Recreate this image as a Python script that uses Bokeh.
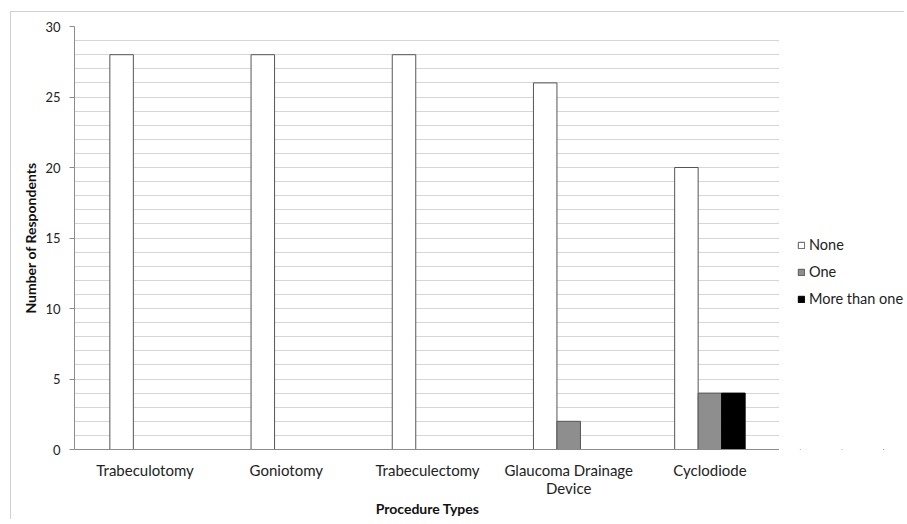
from bokeh.plotting import figure
from bokeh.layouts import row
from bokeh.models import (FactorRange, Range1d, FixedTicker, ColumnDataSource, Legend,
                          LegendItem, CategoricalAxis)
from bokeh.transform import dodge
from bokeh.embed import file_html
from bokeh.resources import INLINE

categories = ["Trabeculotomy", "Goniotomy", "Trabeculectomy", "Glaucoma Drainage Device", "Cyclodiode"]
label_line1 = ["Trabeculotomy", "Goniotomy", "Trabeculectomy", "Glaucoma Drainage", "Cyclodiode"]
label_line2 = ["", "", "", "Device", ""]
series = ["None", "One", "More than one"]
none_vals = [28, 28, 28, 26, 20]
one_vals = [0, 0, 0, 2, 4]
more_vals = [0, 0, 0, 0, 4]
y_ticks = [0, 5, 10, 15, 20, 25, 30]

FONT = "Lato"
BORDER = "1px solid #d0d0d0"

# second label line needs unique factor keys; blanks become distinct runs of spaces
line2_factors = [s if s else " " * (i + 1) for i, s in enumerate(label_line2)]

p = figure(x_range=FactorRange(factors=label_line1, range_padding=0),
           y_range=Range1d(0, 30),
           width=769, height=508, output_backend="svg", toolbar_location=None,
           x_axis_location=None,
           min_border_left=63, min_border_top=14, min_border_right=0, min_border_bottom=71)
p.extra_x_ranges = {"line2": FactorRange(factors=line2_factors, range_padding=0)}
p.margin = (11, 0, 0, 10)
p.styles = {"border-left": BORDER, "border-top": BORDER}
p.outline_line_color = None

bw = 0.1664

def src(vals):
    cats = [c for c, v in zip(label_line1, vals) if v > 0]
    tops = [v for v in vals if v > 0]
    return ColumnDataSource(dict(cat=cats, top=tops))

styles = [dict(fill_color="white", line_color="#555555"),
          dict(fill_color="#8e8e8e", line_color="#555555"),
          dict(fill_color="black", line_color="black")]

for vals, off, st in zip([none_vals, one_vals, more_vals], [-bw, 0, bw], styles):
    p.vbar(x=dodge("cat", off, range=p.x_range), top="top", width=bw, source=src(vals),
           line_width=1, **st)

# grid
p.xgrid.grid_line_color = None
p.ygrid.grid_line_color = "#d6d6d6"
p.ygrid.minor_grid_line_color = "#d6d6d6"

# y axis
p.yaxis.ticker = FixedTicker(ticks=y_ticks, minor_ticks=list(range(0, 31)))
p.yaxis.axis_line_color = "#8c8c8c"
p.yaxis.major_tick_line_color = "#8c8c8c"
p.yaxis.major_tick_out = 5
p.yaxis.major_tick_in = 0
p.yaxis.minor_tick_line_color = None
p.yaxis.major_label_standoff = 9
p.yaxis.major_label_text_font = FONT
p.yaxis.major_label_text_font_size = "13px"
p.yaxis.major_label_text_color = "#222222"
p.yaxis.axis_label = "Number of Respondents"
p.yaxis.axis_label_text_font = FONT
p.yaxis.axis_label_text_font_style = "bold"
p.yaxis.axis_label_text_font_size = "14px"
p.yaxis.axis_label_text_color = "#111111"
p.yaxis.axis_label_standoff = 3

# x axes (two stacked axes give the two-line category label)
xa1 = CategoricalAxis(
    axis_line_color="#8c8c8c", major_tick_line_color=None, major_tick_out=0, major_tick_in=0,
    minor_tick_line_color=None, major_label_standoff=11, major_label_orientation="horizontal",
    major_label_text_font=FONT, major_label_text_font_size="15px", major_label_text_color="#222222")
xa2 = CategoricalAxis(
    x_range_name="line2",
    axis_line_color=None, major_tick_line_color=None, major_tick_out=0, major_tick_in=0,
    minor_tick_line_color=None, major_label_standoff=-3, major_label_orientation="horizontal",
    major_label_text_font=FONT, major_label_text_font_size="15px", major_label_text_color="#222222",
    axis_label="Procedure Types", axis_label_text_font=FONT, axis_label_text_font_style="bold",
    axis_label_text_font_size="14px", axis_label_text_color="#111111", axis_label_standoff=0)
p.add_layout(xa1, "below")
p.add_layout(xa2, "below")

# legend panel to the right of the plot area; its swatch renderers have zero size
p2 = figure(x_range=FactorRange(factors=series), y_range=Range1d(1, 2), width=125, height=508,
            output_backend="svg", toolbar_location=None,
            x_axis_location=None, y_axis_location=None,
            min_border_left=0, min_border_right=0, min_border_top=0, min_border_bottom=0)
p2.margin = (11, 0, 0, 0)
p2.styles = {"border-top": BORDER}
p2.outline_line_color = None
p2.xgrid.visible = False
p2.ygrid.visible = False

items = []
for name, st in zip(series, styles):
    r = p2.vbar(x=[name], top=0, bottom=0, width=0, line_width=1, **st)
    items.append(LegendItem(label=name, renderers=[r]))

legend = Legend(items=items, location=(18, 142), orientation="vertical",
                border_line_color=None, background_fill_alpha=0,
                padding=0, margin=0, spacing=10,
                glyph_width=8, glyph_height=8, label_height=15, label_standoff=4,
                label_text_font=FONT, label_text_font_size="14.5px", label_text_color="#222222")
p2.add_layout(legend, "center")

layout = row(p, p2, spacing=0)

open("out.html", "w").write(file_html(layout, INLINE))
